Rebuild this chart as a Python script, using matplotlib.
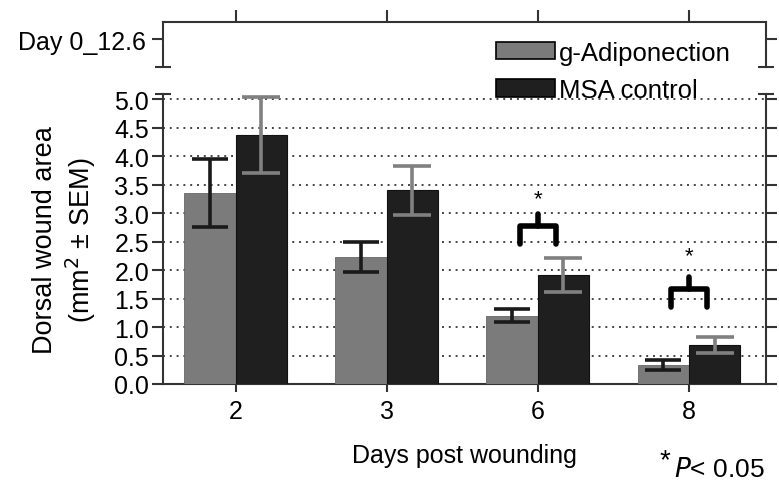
import numpy as np
import matplotlib.pyplot as plt
from matplotlib.patches import Patch

plt.rcParams['font.family'] = ['Liberation Sans', 'DejaVu Sans']

# data
days = ['2', '3', '6', '8']
adipo_mean = [3.35, 2.23, 1.20, 0.33]
adipo_sem = [0.60, 0.27, 0.12, 0.09]
msa_mean = [4.37, 3.40, 1.91, 0.68]
msa_sem = [0.67, 0.43, 0.30, 0.14]
yticks = [0.0, 0.5, 1.0, 1.5, 2.0, 2.5, 3.0, 3.5, 4.0, 4.5, 5.0]

# significance marks (group index, bracket foot, bracket top, stem top, star)
sig_idx = [2, 3]
sig_foot = [2.46, 1.35]
sig_top = [2.77, 1.67]
sig_stem = [2.98, 1.88]
sig_star = [3.26, 2.26]

spine_c = '#333333'
gray_c = '#7b7b7b'
black_c = '#1f1f1f'
fs = 18

fig = plt.figure(figsize=(7.79, 4.89), dpi=100)
ax = fig.add_axes([0.2092, 0.2127, 0.7741, 0.5930])
axt = fig.add_axes([0.2092, 0.861, 0.7741, 0.092], sharex=ax)

x = np.arange(len(days))
w = 0.34
ax.bar(x - w / 2, adipo_mean, w, color=gray_c, edgecolor='#666666', lw=0.6, zorder=3)
ax.bar(x + w / 2, msa_mean, w, color=black_c, edgecolor='#111111', lw=0.8, zorder=3)
ax.errorbar(x - w / 2, adipo_mean, yerr=adipo_sem, fmt='none', ecolor='#1a1a1a',
            elinewidth=2.6, capsize=13, capthick=2.6, zorder=4)
ax.errorbar(x + w / 2, msa_mean, yerr=msa_sem, fmt='none', ecolor='#808080',
            elinewidth=2.6, capsize=14, capthick=2.6, zorder=4)

for i, f, t, s, st in zip(sig_idx, sig_foot, sig_top, sig_stem, sig_star):
    ax.plot([i - 0.12, i - 0.12, i + 0.12, i + 0.12], [f, t, t, f], color='black',
            lw=4, solid_joinstyle='round', solid_capstyle='round', zorder=5)
    ax.plot([i, i], [t, s], color='black', lw=4, solid_capstyle='round', zorder=5)
    ax.text(i, st, '*', ha='center', va='center', fontsize=16, zorder=5)

ax.set_xlim(-0.48, 3.51)
ax.set_ylim(0, 5.09)
ax.set_yticks(yticks)
ax.set_yticklabels([f'{v:.1f}' for v in yticks])
ax.set_xticks(x)
ax.set_xticklabels(days)
ax.yaxis.grid(True, linestyle=(0, (1, 2.5)), color='#444444', lw=1.4, zorder=0)
ax.set_axisbelow(True)
ax.spines['top'].set_visible(False)
for sp in ['left', 'right', 'bottom']:
    ax.spines[sp].set_color(spine_c)
    ax.spines[sp].set_linewidth(1.5)
ax.tick_params(axis='y', which='both', direction='out', length=8, width=1.5, color=spine_c,
               labelsize=fs, right=True, pad=2)
ax.tick_params(axis='x', direction='out', length=6, width=1.5, color=spine_c, labelsize=fs, pad=5)
ax.set_xlabel('Days post wounding', fontsize=fs, labelpad=14)
ax.set_ylabel('Dorsal wound area\n(mm$^2$ \u00b1 SEM)', fontsize=19.5, labelpad=12,
              linespacing=1.2)

# caps on the broken axis
for xp in [0, 1]:
    ax.plot([xp], [1], marker='_', ms=12, mew=1.5, color=spine_c, transform=ax.transAxes,
            clip_on=False)
    axt.plot([xp], [0], marker='_', ms=12, mew=1.5, color=spine_c, transform=axt.transAxes,
             clip_on=False)

axt.set_ylim(0, 1)
axt.set_yticks([0.62])
axt.set_yticklabels(['Day 0_12.6'])
axt.spines['bottom'].set_visible(False)
for sp in ['left', 'right', 'top']:
    axt.spines[sp].set_color(spine_c)
    axt.spines[sp].set_linewidth(1.5)
axt.tick_params(axis='y', direction='out', length=8, width=1.5, color=spine_c, labelsize=fs,
                right=True, pad=4)
axt.tick_params(axis='x', direction='out', length=9, width=1.5, color=spine_c, top=True,
                bottom=False, labelbottom=False, labeltop=False)
axt.set_facecolor('none')

h = [Patch(facecolor=gray_c, edgecolor='black', lw=1.2),
     Patch(facecolor=black_c, edgecolor='black', lw=1.2)]
fig.legend(h, ['g-Adiponection', 'MSA control'], loc='upper left',
           bbox_to_anchor=(0.624, 0.936), frameon=False, fontsize=18.5,
           handlelength=2.3, handleheight=0.66, handletextpad=0.15, labelspacing=0.52,
           borderaxespad=0)

fig.text(0.846, 0.042, '*', fontsize=20, ha='left', va='baseline')
fig.text(0.865, 0.025, '$P$< 0.05', fontsize=19, ha='left', va='baseline')

fig.savefig('out.png', dpi=100)
